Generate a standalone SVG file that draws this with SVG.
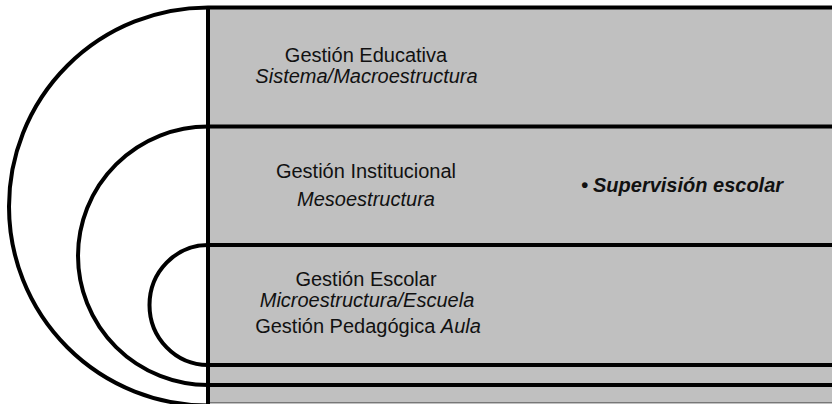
<svg xmlns="http://www.w3.org/2000/svg" width="832" height="404" viewBox="0 0 832 404">
  <style>
    .band { fill: #c0c0c0; }
    .ln { fill: none; stroke: #000; stroke-width: 4; }
    .t { font-family: "Liberation Sans", Arial, sans-serif; font-size: 20px; fill: #111; text-anchor: middle; }
    .i { font-style: italic; }
    .bi { font-family: "Liberation Sans", Arial, sans-serif; font-size: 20px; fill: #111; font-style: italic; font-weight: bold; }
  </style>
  <rect width="832" height="404" fill="#fff"/>
  <g id="background">
    <rect class="band" x="208" y="7.5" width="624" height="396.5"/>
    <line x1="208" y1="402.5" x2="832" y2="402.5" stroke="#777" stroke-width="1"/>
  </g>
  <g id="connectors">
    <path class="ln" d="M 208 7.5 A 199 199 0 0 0 208 405.5" />
    <path class="ln" d="M 208 126.5 A 130 129.25 0 0 0 208 385" />
    <path class="ln" d="M 208 245 A 58.5 60 0 0 0 208 365" />
    <line class="ln" x1="208" y1="7.5" x2="832" y2="7.5" stroke-width="3"/>
    <line class="ln" x1="208" y1="126.5" x2="832" y2="126.5"/>
    <line class="ln" x1="208" y1="245" x2="832" y2="245"/>
    <line class="ln" x1="208" y1="365" x2="832" y2="365"/>
    <line class="ln" x1="208" y1="385" x2="832" y2="385"/>
    <line class="ln" x1="208" y1="6" x2="208" y2="404"/>
  </g>
  <g id="node-educativa">
    <text class="t" x="366" y="62">Gestión Educativa</text>
    <text class="t i" x="366.5" y="83">Sistema/Macroestructura</text>
  </g>
  <g id="node-institucional">
    <text class="t" x="366" y="177.5">Gestión Institucional</text>
    <text class="t i" x="366" y="206">Mesoestructura</text>
  </g>
  <g id="node-escolar">
    <text class="t" x="366" y="286">Gestión Escolar</text>
    <text class="t i" x="367" y="306.5">Microestructura/Escuela</text>
    <text class="t" x="368" y="333">Gestión Pedagógica <tspan class="i">Aula</tspan></text>
  </g>
  <g id="node-supervision">
    <text class="bi" x="581" y="191.5">•<tspan x="593">Supervisión escolar</tspan></text>
  </g>
</svg>
